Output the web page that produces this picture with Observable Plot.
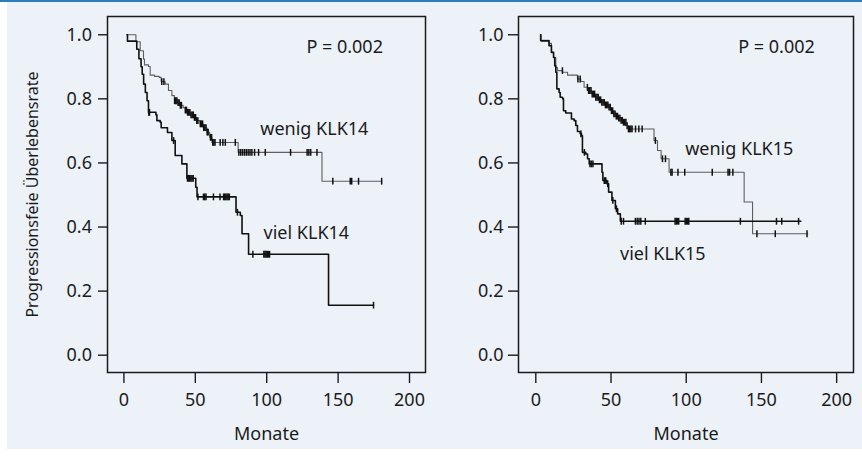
<!DOCTYPE html>
<html><head><meta charset="utf-8">
<script src="https://cdn.jsdelivr.net/npm/d3@7"></script>
<script src="https://cdn.jsdelivr.net/npm/@observablehq/plot@0.6"></script>
<style>
html,body{margin:0;padding:0;background:#fff;}
#wrap{position:relative;width:862px;height:458px;overflow:hidden;}
#bg{position:absolute;left:7px;top:0;width:855px;height:449px;background:#edf2f9;}
#topline{position:absolute;left:0;top:0;width:862px;height:2px;background:#2f7bc0;}
.panel{position:absolute;top:0;}
</style></head><body>
<div id="wrap"><div id="bg"></div><div id="topline"></div>
<div id="p1" class="panel" style="left:0"></div>
<div id="p2" class="panel" style="left:431px"></div></div>
<script>
// ---- data ----
const xTicks = [0, 50, 100, 150, 200];
const yTicks = [0.0, 0.2, 0.4, 0.6, 0.8, 1.0];
const xTitle = "Monate";
const yTitle = "Progressionsfeie Überlebensrate";
const pValue = "P = 0.002";

// KLK14, wenig (low)
const t14Low = [2.5, 8.4, 11.4, 13.7, 14.4, 17.2, 18.4, 21.4, 24.7, 26.1, 28.9, 31.2, 33.6, 35.4, 37.5, 39.4, 41.5, 43, 44.5, 46.5, 48.7, 51, 53.4, 55.5, 58.1, 60, 61.6, 80, 138.7, 180.5];
const s14Low = [1.0, 0.978, 0.950, 0.924, 0.906, 0.901, 0.874, 0.870, 0.867, 0.854, 0.846, 0.826, 0.810, 0.794, 0.788, 0.780, 0.772, 0.765, 0.758, 0.750, 0.742, 0.732, 0.722, 0.710, 0.696, 0.680, 0.664, 0.633, 0.543, 0.543];
const c14Low = [26.5, 28, 35.5, 36.3, 37.1, 37.9, 38.7, 39.5, 40.3, 43, 43.8, 44.6, 45.4, 46.2, 47, 47.8, 48.6, 49.4, 50.2, 51, 51.8, 53.5, 54.3, 55.1, 55.9, 56.7, 57.5, 58.3, 59, 60.6, 61.4, 62.2, 63, 63.8, 67.4, 69.3, 71, 78, 80.5, 81.8, 83.1, 84.4, 85.7, 87, 88.3, 89.6, 91.5, 94.3, 99, 116.7, 128.3, 129.5, 130.8, 135.2, 146.3, 158.5, 159.5, 164.3, 180.5];
// KLK14, viel (high)
const t14High = [2.1, 2.5, 9, 10.5, 12, 12.8, 13.8, 15, 16.2, 17.2, 22.4, 23.1, 25.4, 26.1, 30.5, 33.6, 35.9, 40.6, 44.1, 50.3, 51.2, 78.5, 81.5, 82.7, 87.3, 143.3, 174.8];
const s14High = [1.0, 0.98, 0.955, 0.925, 0.90, 0.877, 0.846, 0.82, 0.794, 0.758, 0.750, 0.732, 0.727, 0.710, 0.695, 0.670, 0.623, 0.597, 0.552, 0.524, 0.494, 0.446, 0.436, 0.379, 0.315, 0.156, 0.156];
const c14High = [17.4, 17.9, 34.8, 44.5, 45.3, 46.1, 46.9, 47.7, 48.5, 51.8, 55.7, 56.6, 57.5, 62.7, 67.3, 69.8, 70.6, 71.4, 72.2, 73, 73.8, 79.5, 90.3, 98, 98.8, 99.6, 100.4, 101.2, 102, 174.8];

// KLK15, wenig (low)
const t15Low = [2.9, 3.0, 8.8, 10.4, 11.8, 13.3, 14.4, 17.8, 21.1, 27.7, 29.9, 32.1, 34.4, 37.2, 39.4, 41.6, 43.9, 46.1, 48.3, 50, 51.7, 53.4, 55, 56.7, 58.3, 60, 61.6, 78.6, 80.9, 83.3, 88.6, 138.5, 144.1, 180.8];
const s15Low = [1.0, 0.983, 0.973, 0.945, 0.929, 0.898, 0.888, 0.883, 0.874, 0.862, 0.854, 0.836, 0.826, 0.815, 0.805, 0.797, 0.789, 0.781, 0.774, 0.763, 0.753, 0.746, 0.740, 0.733, 0.727, 0.716, 0.706, 0.670, 0.639, 0.613, 0.571, 0.478, 0.379, 0.379];
const c15Low = [17.7, 28, 29.5, 34.3, 35.1, 35.9, 36.7, 37.5, 38.3, 39.1, 39.9, 40.7, 41.5, 42.3, 43.1, 43.9, 44.7, 45.5, 46.3, 47.1, 47.9, 48.7, 49.5, 50.3, 51.1, 51.9, 52.7, 53.5, 54.3, 55.1, 55.9, 56.7, 57.5, 58.3, 59.1, 59.9, 60.7, 61.6, 62.4, 63.2, 64, 66.3, 68.5, 70.7, 79.5, 84.2, 86.2, 89.8, 90.6, 94.5, 99, 117.3, 127.8, 128.8, 131, 147, 159.2, 180.3];
// KLK15, viel (high)
const t15High = [3.3, 3.4, 8.8, 10.4, 11.8, 12.6, 13.3, 14, 15.5, 16.2, 17.8, 18.4, 19.9, 23.7, 25.5, 26.6, 27.7, 29.5, 30.4, 31, 33.2, 34.4, 35.5, 44, 44.6, 47.3, 48.4, 50.6, 52.9, 54.4, 56.2, 176.2];
const s15High = [1.0, 0.981, 0.966, 0.945, 0.929, 0.903, 0.883, 0.831, 0.820, 0.805, 0.800, 0.763, 0.756, 0.737, 0.732, 0.717, 0.698, 0.691, 0.685, 0.633, 0.628, 0.613, 0.597, 0.571, 0.545, 0.535, 0.509, 0.483, 0.457, 0.441, 0.418, 0.418];
const c15High = [30, 32.3, 36, 37, 38, 45.5, 46.5, 47.8, 51.2, 53.6, 56.8, 58.3, 66.2, 67.4, 68.6, 69.8, 72.8, 92.6, 93.4, 94.2, 95, 99.3, 100.1, 100.9, 101.7, 136, 160, 163.5, 174.7];

const labels14 = ["wenig KLK14", "viel KLK14"];
const labels15 = ["wenig KLK15", "viel KLK15"];

// ---- helpers ----
const toRows = (ts, ss) => ts.map((t, i) => ({t, s: ss[i]}));
const stepAt = (ts, ss, t) => { let k = 0; for (let i = 0; i < ts.length; i++) if (ts[i] <= t) k = i; return ss[k]; };
const censRows = (cs, ts, ss) => cs.map(t => ({t, s: stepAt(ts, ss, t)}));
const vtick = {draw(ctx, size) { const r = Math.sqrt(size / Math.PI); ctx.moveTo(0, -r); ctx.lineTo(0, r); }};
const ink = "#1b1b1b";
const fs = 18;

function panel(o) {
  return Plot.plot({
    width: 431, height: 458,
    marginLeft: o.ml, marginRight: o.mr, marginTop: 16, marginBottom: 86,
    style: {background: "transparent", fontFamily: "'Noto Sans', sans-serif", fontSize: fs + "px", color: ink},
    x: {domain: [-11.5, 211.2]},
    y: {domain: [-0.054, 1.057]},
    marks: [
      Plot.frame({stroke: ink, strokeWidth: 1.5}),
      Plot.axisX({ticks: xTicks, tickSize: 11, tickPadding: 10, strokeWidth: 1.4, stroke: ink, fill: ink, label: null, fontSize: fs}),
      Plot.axisY({ticks: yTicks, tickFormat: d3.format(".1f"), tickSize: o.ts, tickPadding: o.tp, strokeWidth: 1.4, stroke: ink, fill: ink, label: null, fontSize: fs}),
      Plot.line(toRows(o.tl, o.sl), {x: "t", y: "s", curve: "step-after", stroke: "#5e5e5e", strokeWidth: 1.1}),
      Plot.line(toRows(o.th, o.sh), {x: "t", y: "s", curve: "step-after", stroke: "#111", strokeWidth: 1.6}),
      Plot.dot(censRows(o.cl, o.tl, o.sl), {x: "t", y: "s", r: 3.4, symbol: vtick, stroke: "#111", strokeWidth: 1.5, fill: "none"}),
      Plot.dot(censRows(o.ch, o.th, o.sh), {x: "t", y: "s", r: 3.4, symbol: vtick, stroke: "#111", strokeWidth: 1.5, fill: "none"}),
      Plot.text([pValue], {x: o.px, y: 0.96, text: d => d, textAnchor: "end", fill: ink, fontSize: fs}),
      Plot.text([o.labels[0]], {x: o.lx0, y: o.ly0, text: d => d, textAnchor: "start", fill: ink, fontSize: fs}),
      Plot.text([o.labels[1]], {x: o.lx1, y: o.ly1, text: d => d, textAnchor: "start", fill: ink, fontSize: fs}),
      Plot.text([xTitle], {frameAnchor: "bottom", dy: 67, text: d => d, fill: ink, fontSize: fs}),
      o.ytitle ? Plot.text([yTitle], {frameAnchor: "left", dx: -75, rotate: -90, textAnchor: "middle", text: d => d, fill: ink, fontSize: 16}) : null
    ]
  });
}

document.getElementById("p1").append(panel({
  ml: 107, mr: 6, ts: 9, tp: 6.5,
  tl: t14Low, sl: s14Low, th: t14High, sh: s14High, cl: c14Low, ch: c14High,
  labels: labels14, px: 181.4, lx0: 95.5, ly0: 0.704, lx1: 97.8, ly1: 0.380, ytitle: true
}));
document.getElementById("p2").append(panel({
  ml: 87, mr: 9, ts: 10, tp: 5,
  tl: t15Low, sl: s15Low, th: t15High, sh: s15High, cl: c15Low, ch: c15High,
  labels: labels15, px: 185.5, lx0: 99.3, ly0: 0.642, lx1: 56, ly1: 0.315, ytitle: false
}));
</script>
</body></html>
